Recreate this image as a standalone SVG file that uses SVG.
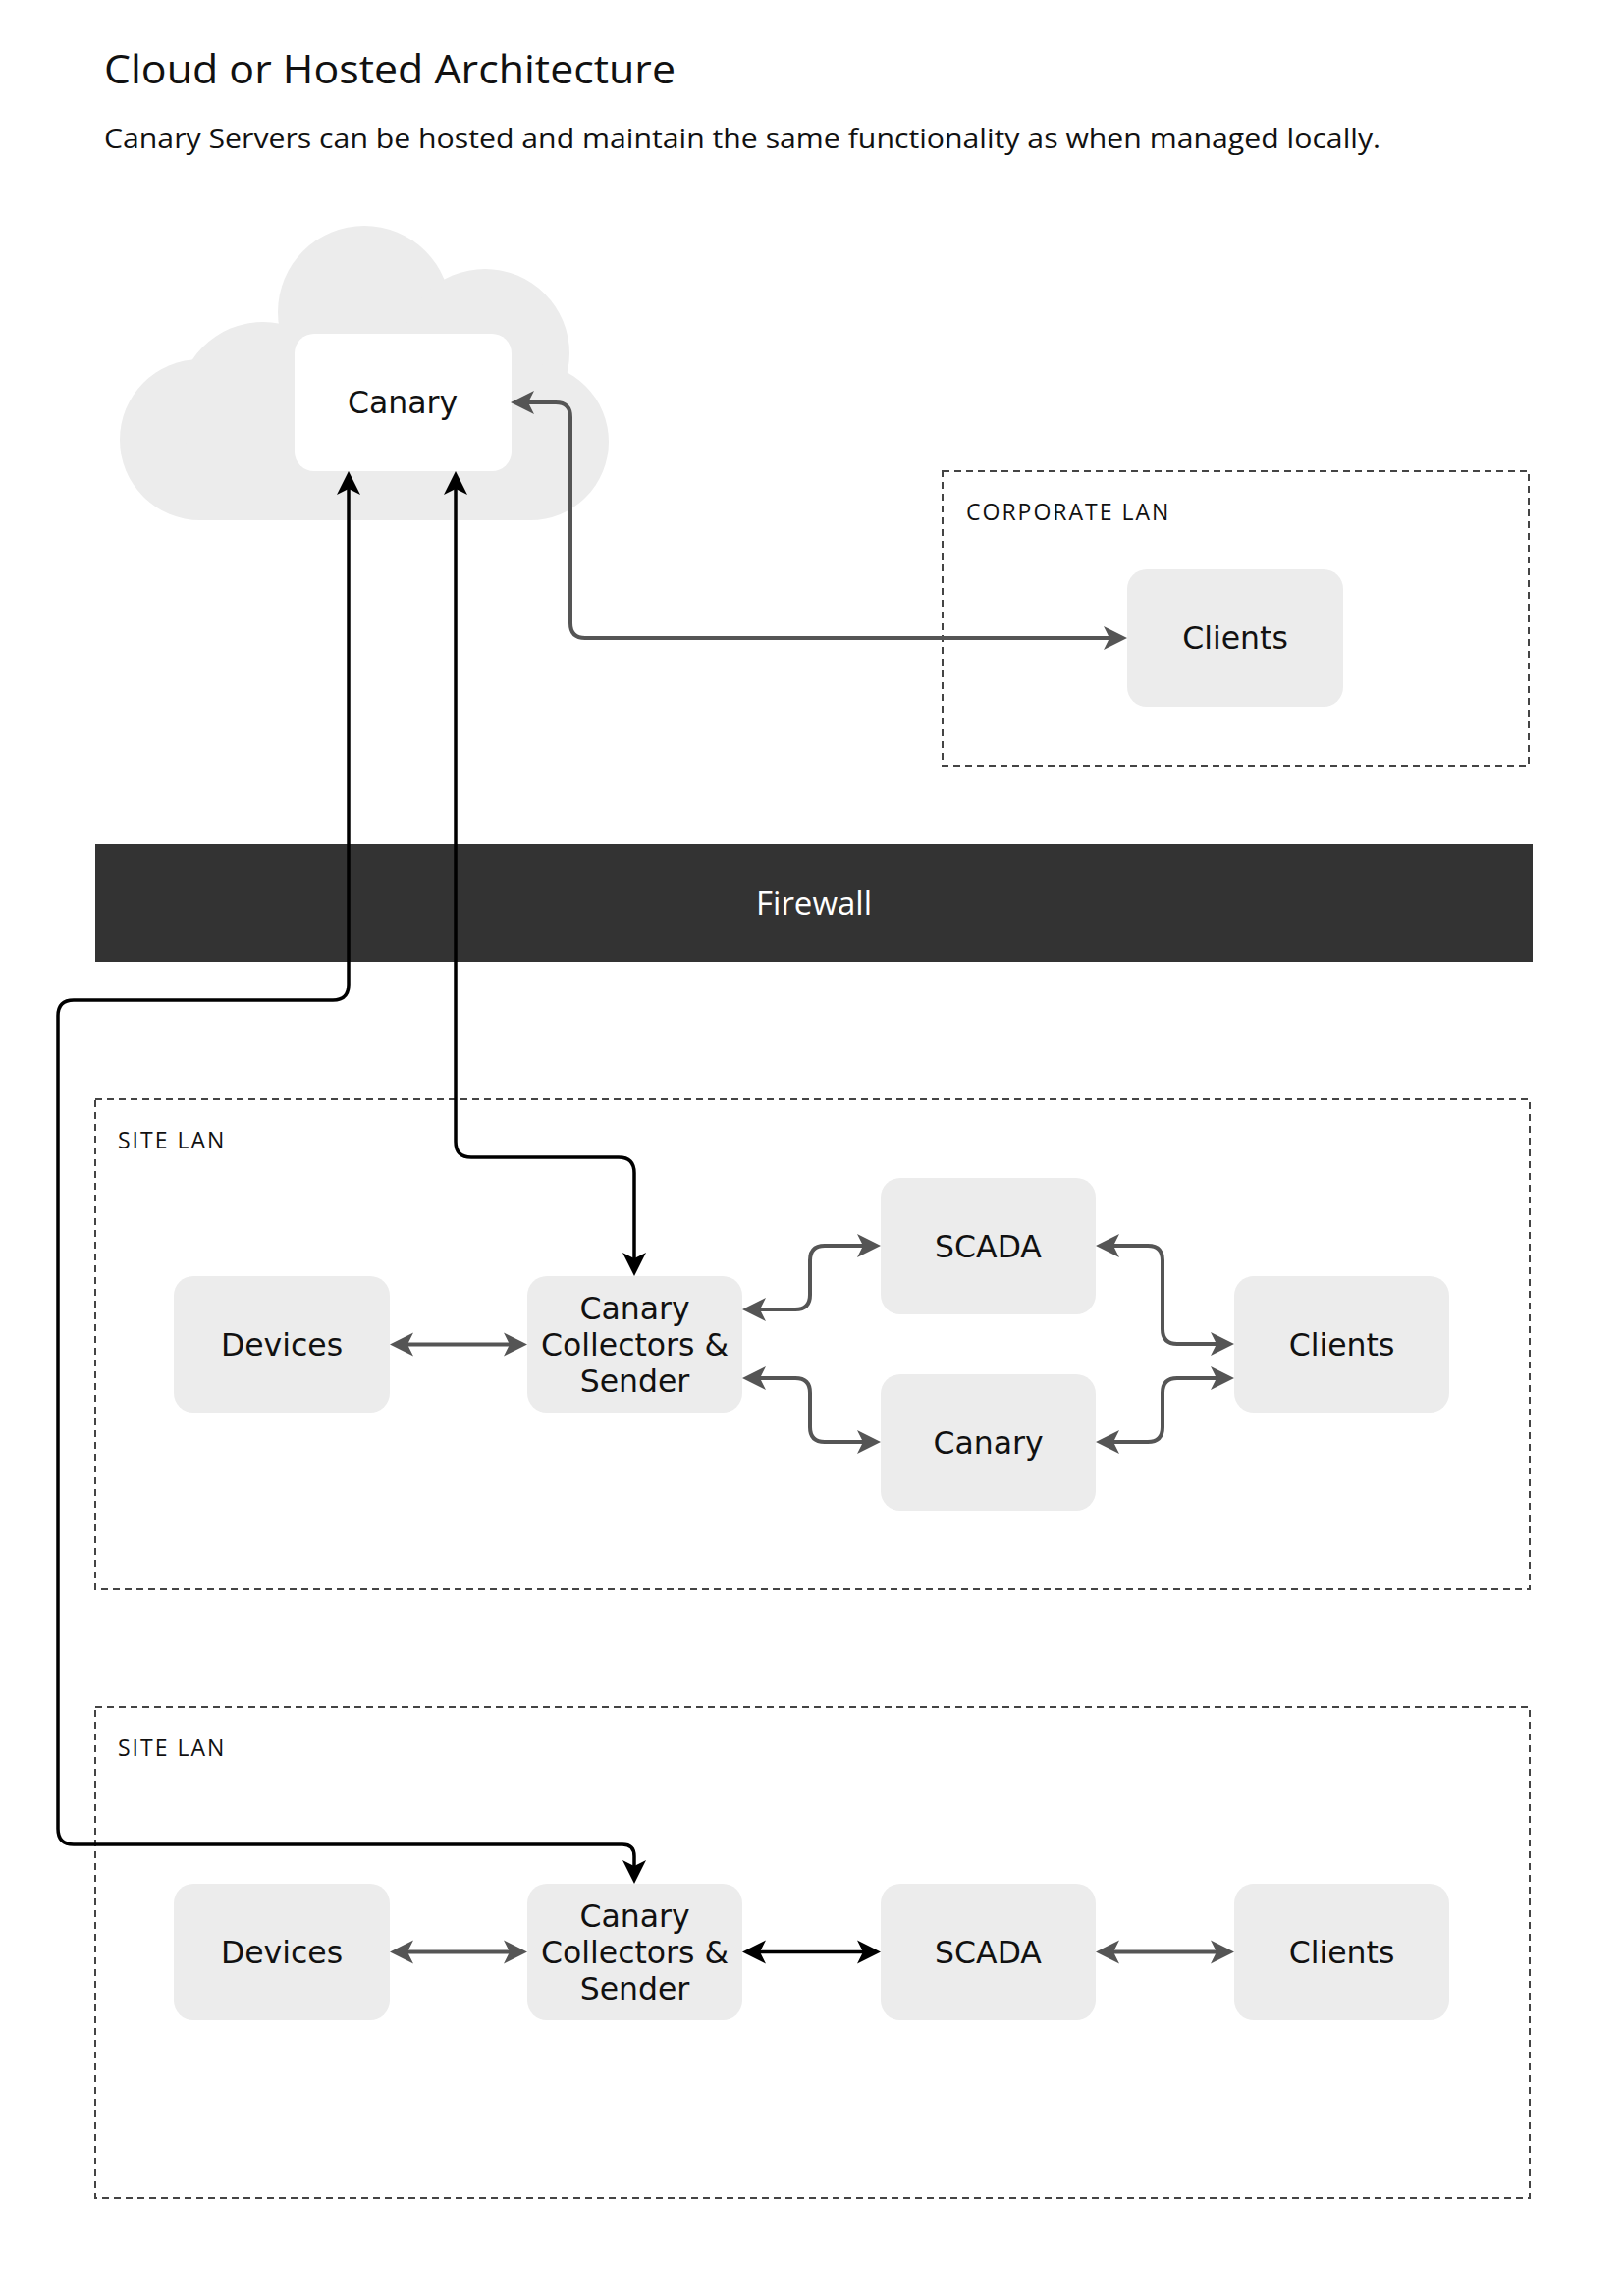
<svg xmlns="http://www.w3.org/2000/svg" width="1653" height="2339" viewBox="0 0 1653 2339">
<defs>
<marker id="ag" viewBox="0 -12 24 24" refX="6" refY="0" markerWidth="24" markerHeight="24" markerUnits="userSpaceOnUse" orient="auto-start-reverse" overflow="visible">
<path d="M0,-12 L24,0 L0,12 L6,0 Z" fill="#555555"/>
</marker>
<marker id="ab" viewBox="0 -12 24 24" refX="6" refY="0" markerWidth="24" markerHeight="24" markerUnits="userSpaceOnUse" orient="auto-start-reverse" overflow="visible">
<path d="M0,-12 L24,0 L0,12 L6,0 Z" fill="#000000"/>
</marker>
</defs>
<style>
text{font-family:"Open Sans","Liberation Sans",sans-serif;fill:#111111}
.title{font-size:41px}
.sub{font-size:28px}
.lbl{font-size:23px;letter-spacing:2px}
.nt{font-family:"DejaVu Sans","Liberation Sans",sans-serif;font-size:31.5px;text-anchor:middle}
.node{fill:#ececec}
.lan{fill:none;stroke:#444444;stroke-width:2;stroke-dasharray:7 5}
.cg{fill:none;stroke:#555555;stroke-width:4;marker-start:url(#ag);marker-end:url(#ag)}
.cb{fill:none;stroke:#000000;stroke-width:3.5;marker-start:url(#ab);marker-end:url(#ab)}
</style>
<rect width="1653" height="2339" fill="#ffffff"/>
<g id="header">
<text class="title" x="106" y="85" textLength="582" lengthAdjust="spacingAndGlyphs">Cloud or Hosted Architecture</text>
<text class="sub" x="106" y="151" textLength="1300" lengthAdjust="spacingAndGlyphs">Canary Servers can be hosted and maintain the same functionality as when managed locally.</text>
</g>
<g id="cloud" fill="#ececec">
<circle cx="204" cy="448" r="82"/>
<circle cx="268" cy="415" r="87"/>
<circle cx="371" cy="318" r="88"/>
<circle cx="494" cy="360" r="86"/>
<circle cx="540" cy="450" r="80"/>
<rect x="268" y="360" width="226" height="170"/>
<rect x="204" y="448" width="336" height="82"/>
</g>
<g id="corporate-lan">
<rect class="lan" x="960" y="480" width="597" height="300"/>
<text class="lbl" x="984" y="530">CORPORATE LAN</text>
</g>
<g id="site-lan-1">
<rect class="lan" x="97" y="1120" width="1461" height="499"/>
<text class="lbl" x="120" y="1170">SITE LAN</text>
</g>
<g id="site-lan-2">
<rect class="lan" x="97" y="1739" width="1461" height="500"/>
<text class="lbl" x="120" y="1789">SITE LAN</text>
</g>
<g id="firewall">
<rect x="97" y="860" width="1464" height="120" fill="#333333"/>
<text x="829" y="932" style="font-size:33px;fill:#ffffff;text-anchor:middle">Firewall</text>
</g>
<g id="cloud-canary">
<rect x="300" y="340" width="221" height="140" rx="20" fill="#ffffff"/>
<text class="nt" x="410" y="421">Canary</text>
</g>
<g id="corp-clients">
<rect class="node" x="1148" y="580" width="220" height="140" rx="20"/>
<text class="nt" x="1258" y="661">Clients</text>
</g>
<g id="s1-devices">
<rect class="node" x="177" y="1300" width="220" height="139" rx="20"/>
<text class="nt" x="287" y="1381">Devices</text>
</g>
<g id="s1-collectors">
<rect class="node" x="537" y="1300" width="219" height="139" rx="20"/>
<text class="nt" x="646.5" y="1344"><tspan x="646.5" y="1344">Canary</tspan><tspan x="646.5" y="1381">Collectors &amp;</tspan><tspan x="646.5" y="1418">Sender</tspan></text>
</g>
<g id="s1-scada">
<rect class="node" x="897" y="1200" width="219" height="139" rx="20"/>
<text class="nt" x="1006.5" y="1281">SCADA</text>
</g>
<g id="s1-canary">
<rect class="node" x="897" y="1400" width="219" height="139" rx="20"/>
<text class="nt" x="1006.5" y="1481">Canary</text>
</g>
<g id="s1-clients">
<rect class="node" x="1257" y="1300" width="219" height="139" rx="20"/>
<text class="nt" x="1366.5" y="1381">Clients</text>
</g>
<g id="s2-devices">
<rect class="node" x="177" y="1919" width="220" height="139" rx="20"/>
<text class="nt" x="287" y="2000">Devices</text>
</g>
<g id="s2-collectors">
<rect class="node" x="537" y="1919" width="219" height="139" rx="20"/>
<text class="nt" x="646.5" y="1963"><tspan x="646.5" y="1963">Canary</tspan><tspan x="646.5" y="2000">Collectors &amp;</tspan><tspan x="646.5" y="2037">Sender</tspan></text>
</g>
<g id="s2-scada">
<rect class="node" x="897" y="1919" width="219" height="139" rx="20"/>
<text class="nt" x="1006.5" y="2000">SCADA</text>
</g>
<g id="s2-clients">
<rect class="node" x="1257" y="1919" width="219" height="139" rx="20"/>
<text class="nt" x="1366.5" y="2000">Clients</text>
</g>
<g id="connectors">
<path class="cg" d="M538,410 H566 Q581,410 581,425 V635 Q581,650 596,650 H1130"/>
<path class="cb" d="M355,498 V1003 Q355,1019 339,1019 H75 Q59,1019 59,1035 V1863 Q59,1879 75,1879 H634 Q646,1879 646,1891 V1901"/>
<path class="cb" d="M464,498 V1163 Q464,1179 480,1179 H630 Q646,1179 646,1195 V1282"/>
<path class="cg" d="M415,1369.5 H519"/>
<path class="cg" d="M774,1334 H810 Q825,1334 825,1319 V1284 Q825,1269 840,1269 H879"/>
<path class="cg" d="M774,1404 H810 Q825,1404 825,1419 V1454 Q825,1469 840,1469 H879"/>
<path class="cg" d="M1134,1269 H1169 Q1184,1269 1184,1284 V1354 Q1184,1369 1199,1369 H1239"/>
<path class="cg" d="M1134,1469 H1169 Q1184,1469 1184,1454 V1419 Q1184,1404 1199,1404 H1239"/>
<path class="cg" d="M415,1988.5 H519"/>
<path class="cb" d="M774,1988.5 H879"/>
<path class="cg" d="M1134,1988.5 H1239"/>
</g>
</svg>
